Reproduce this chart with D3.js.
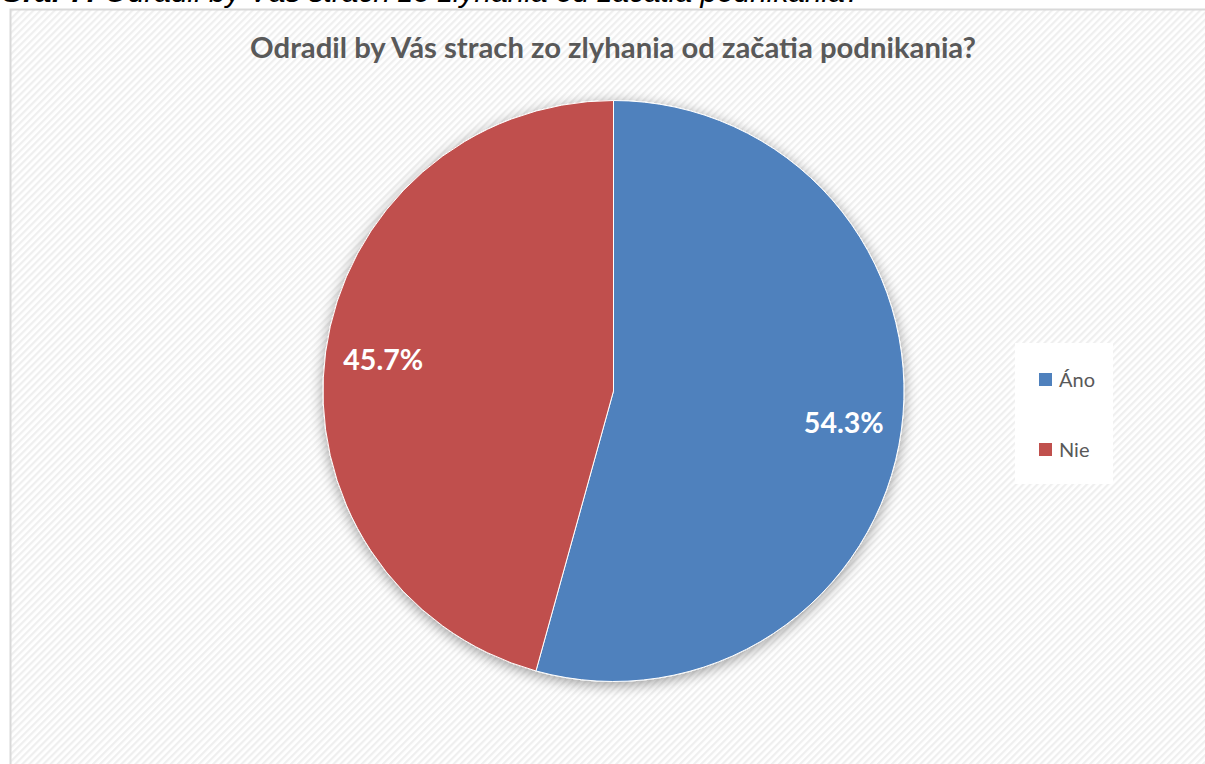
<!DOCTYPE html>
<html>
<head>
<meta charset="utf-8">
<script src="https://cdn.jsdelivr.net/npm/d3@7"></script>
<style>
  html, body { margin: 0; padding: 0; background: #ffffff; overflow: hidden; }
  svg { display: block; }
</style>
</head>
<body>
<svg id="chart" width="1205" height="764"></svg>
<script>
// ---- data ----
const categories = ["Áno", "Nie"];
const values = [54.3, 45.7];
const labels = ["54.3%", "45.7%"];
const colors = ["#4F81BD", "#C0504D"];
const chartTitle = "Odradil by Vás strach zo zlyhania od začatia podnikania?";
const captionLead = "Graf 7:";
const captionText = " Odradil by Vás strach zo zlyhania od začatia podnikania?";

const W = 1205, H = 764;
const svg = d3.select("#chart");
const defs = svg.append("defs");

// diagonal stripe background pattern
const pat = defs.append("pattern")
  .attr("id", "stripes").attr("patternUnits", "userSpaceOnUse")
  .attr("width", 5).attr("height", 5)
  .attr("patternTransform", "rotate(45)");
pat.append("rect").attr("width", 5).attr("height", 5).attr("fill", "#ffffff");
pat.append("rect").attr("width", 2.2).attr("height", 5).attr("fill", "#efefef");

// shadow filter
const f = defs.append("filter").attr("id", "shadow")
  .attr("x", "-20%").attr("y", "-20%").attr("width", "140%").attr("height", "140%");
f.append("feGaussianBlur").attr("in", "SourceAlpha").attr("stdDeviation", 7).attr("result", "b");
f.append("feOffset").attr("in", "b").attr("dx", 0).attr("dy", 3).attr("result", "o");
f.append("feComponentTransfer").attr("in", "o").attr("result", "s")
  .append("feFuncA").attr("type", "linear").attr("slope", 0.38);
const fm = f.append("feMerge");
fm.append("feMergeNode").attr("in", "s");
fm.append("feMergeNode").attr("in", "SourceGraphic");

// caption (clipped above frame)
const cap = svg.append("text")
  .attr("x", 0).attr("y", 2)
  .attr("font-family", "'Liberation Sans', Arial, sans-serif")
  .attr("font-style", "italic")
  .attr("font-size", 22)
  .attr("fill", "#000");
cap.append("tspan").attr("font-weight", "bold").text(captionLead);
cap.append("tspan").text(captionText);
{
  const w = cap.node().getComputedTextLength();
  cap.attr("font-size", 22 * 862 / w);
}

// chart frame
svg.append("rect")
  .attr("x", 10.5).attr("y", 9.5)
  .attr("width", W + 20).attr("height", H + 20)
  .attr("fill", "url(#stripes)")
  .attr("stroke", "#d9d9d9").attr("stroke-width", 2);

// title
const title = svg.append("text")
  .attr("x", 613).attr("y", 58)
  .attr("text-anchor", "middle")
  .attr("font-family", "Lato, 'Open Sans', sans-serif")
  .attr("font-weight", "bold")
  .attr("font-size", 26)
  .attr("fill", "#595959")
  .text(chartTitle);
{
  const w = title.node().getComputedTextLength();
  title.attr("font-size", 26 * 726 / w);
}

// pie
const cx = 613.5, cy = 391, r = 290.5;
const pie = d3.pie().sort(null).value(d => d)(values);
const arc = d3.arc().innerRadius(0).outerRadius(r);
const labelArc = d3.arc().innerRadius(r * 0.8).outerRadius(r * 0.8);

const g = svg.append("g").attr("transform", `translate(${cx},${cy})`);
g.append("g").attr("filter", "url(#shadow)")
  .selectAll("path").data(pie).join("path")
  .attr("d", arc)
  .attr("fill", (d, i) => colors[i])
  .attr("stroke", "#ffffff").attr("stroke-width", 1)
  .attr("stroke-linejoin", "round");

const lbl = g.selectAll("text.lbl").data(pie).join("text")
  .attr("class", "lbl")
  .attr("transform", d => `translate(${labelArc.centroid(d)})`)
  .attr("text-anchor", "middle")
  .attr("dy", "0.36em")
  .attr("font-family", "Lato, 'Open Sans', sans-serif")
  .attr("font-weight", "bold")
  .attr("font-size", 30)
  .attr("fill", "#ffffff")
  .text((d, i) => labels[i]);
lbl.each(function() {
  const w = this.getComputedTextLength();
  d3.select(this).attr("font-size", 30 * 80 / w);
});

// legend
const leg = svg.append("g");
leg.append("rect")
  .attr("x", 1015).attr("y", 343).attr("width", 98).attr("height", 141)
  .attr("fill", "#ffffff");
const items = leg.selectAll("g.item").data(categories).join("g")
  .attr("class", "item")
  .attr("transform", (d, i) => `translate(1039, ${373 + i * 70})`);
items.append("rect")
  .attr("width", 13).attr("height", 13)
  .attr("fill", (d, i) => colors[i]);
items.append("text")
  .attr("x", 20).attr("y", 14)
  .attr("font-family", "Lato, 'Open Sans', sans-serif")
  .attr("font-size", 20)
  .attr("fill", "#595959")
  .text(d => d);
</script>
</body>
</html>
